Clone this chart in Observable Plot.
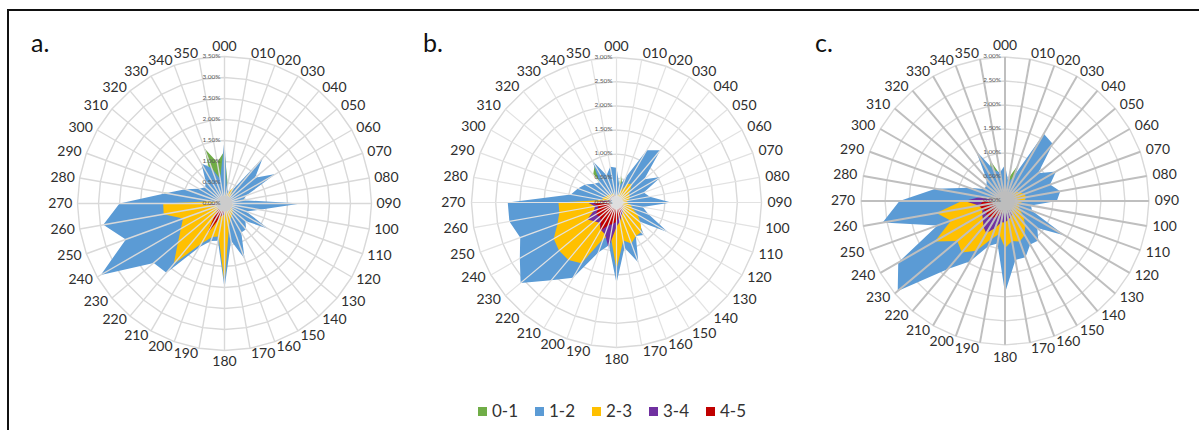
<!DOCTYPE html>
<html>
<head>
<meta charset="utf-8">
<script src="https://cdn.jsdelivr.net/npm/d3@7"></script>
<script src="https://cdn.jsdelivr.net/npm/@observablehq/plot@0.6"></script>
<style>
  html, body { margin: 0; padding: 0; background: #fff; }
  #wrap { position: relative; width: 1199px; height: 430px; overflow: hidden; font-family: Lato, "Open Sans", sans-serif; background: #fff; }
  #frame { position: absolute; left: 7px; top: 9px; width: 1400px; height: 600px; border-left: 2px solid #111; border-top: 2px solid #111; }
  .panel { position: absolute; top: 0; }
  .panel svg { overflow: visible; }
  .letter { position: absolute; font-size: 25px; line-height: 1; color: #111; }
  #legend { position: absolute; top: 401px; left: 478px; height: 20px; }
  .item { position: absolute; top: 0; display: flex; align-items: center; font-size: 17px; color: #333; white-space: nowrap; line-height: 20px; }
  .sw { width: 9px; height: 9px; margin-right: 5px; }
</style>
</head>
<body>
<div id="wrap">
  <div id="frame"></div>
</div>
<script>
// ---- categories ----
const directions = ["000","010","020","030","040","050","060","070","080","090","100","110",
                    "120","130","140","150","160","170","180","190","200","210","220","230",
                    "240","250","260","270","280","290","300","310","320","330","340","350"];
const seriesNames = ["0-1", "1-2", "2-3", "3-4", "4-5"];
const seriesColors = ["#70AD47", "#5B9BD5", "#FFC000", "#7030A0", "#C00000"];
const ticksA = [0, 0.5, 1.0, 1.5, 2.0, 2.5, 3.0, 3.5];
const ticksBC = [0, 0.5, 1.0, 1.5, 2.0, 2.5, 3.0];

// ---- panel a values (% frequency), directions 000..350 ----
const a01 = [1.25,0.45,0.15,0.10,0.10,0.10,0.15,0.35,0.50,0.20,0.10,0.10,
             0.10,0.10,0.10,0.10,0.10,0.10,0.10,0.10,0.10,0.10,0.10,0.10,
             0.10,0.10,0.15,0.30,1.65,0.40,0.20,0.20,0.30,0.60,1.40,1.00];
const a12 = [1.52,0.35,0.30,0.35,1.42,0.95,1.40,0.55,0.45,1.82,0.85,0.55,
             1.20,0.65,0.80,0.80,1.40,0.90,2.02,0.90,0.95,1.20,2.15,2.20,
             3.40,2.50,2.93,2.50,1.42,1.00,0.70,0.60,0.70,1.10,0.90,0.60];
const a23 = [0.15,0.20,0.30,0.45,0.20,0.15,0.15,0.15,0.15,0.20,0.20,0.20,
             0.20,0.25,0.30,0.35,0.40,0.60,1.90,0.80,0.85,1.10,1.88,1.45,
             1.20,1.05,1.47,1.46,0.30,0.20,0.15,0.15,0.15,0.15,0.15,0.15];
const a34 = [0.08,0.08,0.08,0.08,0.08,0.08,0.08,0.08,0.08,0.08,0.08,0.08,
             0.08,0.08,0.08,0.08,0.10,0.15,0.25,0.30,0.30,0.25,0.20,0.15,
             0.15,0.15,0.20,0.65,0.10,0.08,0.08,0.08,0.08,0.08,0.08,0.08];
const a45 = [0.06,0.06,0.06,0.06,0.06,0.06,0.06,0.06,0.06,0.06,0.06,0.06,
             0.06,0.06,0.06,0.06,0.08,0.10,0.15,0.25,0.40,0.85,0.35,0.20,
             0.15,0.15,0.10,0.15,0.06,0.06,0.06,0.06,0.06,0.06,0.06,0.06];

// ---- panel b values ----
const b01 = [0.20,0.57,0.35,0.10,0.10,0.10,0.10,0.10,0.10,0.10,0.10,0.10,
             0.10,0.10,0.10,0.10,0.10,0.10,0.10,0.10,0.10,0.10,0.10,0.10,
             0.10,0.10,0.10,0.15,0.15,0.15,0.15,0.20,0.75,0.90,0.40,0.20];
const b12 = [0.72,0.35,0.55,1.25,1.41,0.75,1.06,0.60,0.70,1.13,0.55,0.70,
             1.23,0.60,0.88,0.80,1.32,0.95,1.67,0.90,1.10,1.80,2.10,2.59,
             2.31,2.12,2.25,2.25,0.96,0.85,0.75,0.60,0.55,1.00,0.60,0.75];
const b23 = [0.15,0.15,0.25,0.45,0.50,0.35,0.30,0.30,0.25,0.20,0.30,0.35,
             0.50,0.65,0.80,0.80,0.90,0.80,1.38,0.70,0.80,1.45,1.55,1.55,
             1.50,1.30,1.20,1.20,0.30,0.30,0.25,0.25,0.20,0.20,0.20,0.15];
const b34 = [0.15,0.12,0.12,0.12,0.12,0.12,0.12,0.12,0.12,0.12,0.12,0.12,
             0.15,0.15,0.20,0.25,0.30,0.40,0.50,0.95,0.70,0.65,0.55,0.60,
             0.70,0.50,0.45,0.60,0.20,0.15,0.15,0.15,0.15,0.15,0.15,0.15];
const b45 = [0.10,0.10,0.10,0.10,0.10,0.10,0.10,0.10,0.10,0.10,0.10,0.10,
             0.12,0.15,0.15,0.20,0.25,0.30,0.40,0.45,0.50,0.68,0.50,0.45,
             0.50,0.40,0.40,0.50,0.15,0.10,0.10,0.10,0.10,0.10,0.10,0.10];

// ---- panel c values ----
const c01 = [0.30,0.50,0.80,0.30,0.10,0.10,0.10,0.10,0.10,0.10,0.10,0.10,
             0.10,0.10,0.10,0.10,0.10,0.10,0.10,0.10,0.10,0.10,0.10,0.10,
             0.10,0.10,0.10,0.10,0.10,0.10,0.10,0.15,0.30,0.60,0.90,0.55];
const c12 = [0.75,0.40,0.55,1.62,1.55,0.90,1.23,1.00,1.17,1.08,0.55,0.60,
             1.44,0.88,1.08,1.05,1.25,1.25,1.92,0.90,1.00,1.45,1.85,2.92,
             2.57,1.50,2.59,2.20,1.47,0.80,0.50,0.50,0.60,1.21,0.70,0.60];
const c23 = [0.10,0.10,0.15,0.15,0.20,0.30,0.35,0.43,0.45,0.40,0.30,0.30,
             0.35,0.50,0.65,0.82,0.90,0.85,0.98,0.70,0.85,1.20,1.40,1.30,
             1.69,1.20,1.45,0.90,0.40,0.20,0.15,0.10,0.10,0.10,0.10,0.10];
const c34 = [0.12,0.12,0.12,0.12,0.12,0.12,0.12,0.12,0.12,0.12,0.12,0.12,
             0.12,0.15,0.20,0.30,0.35,0.40,0.45,0.45,0.60,0.78,0.70,0.60,
             0.55,0.50,0.55,0.85,0.50,0.15,0.12,0.12,0.12,0.12,0.12,0.12];
const c45 = [0.08,0.08,0.08,0.08,0.08,0.08,0.08,0.08,0.08,0.08,0.08,0.08,
             0.08,0.08,0.08,0.10,0.12,0.15,0.20,0.25,0.30,0.40,0.45,0.50,
             0.45,0.50,0.55,0.45,0.20,0.08,0.08,0.08,0.08,0.08,0.08,0.08];

// ---- layout / style of each panel ----
const panels = [
  { letter: "a.", series: [a01, a12, a23, a34, a45], ticks: ticksA, cx: 224, cy: 203, R: 147, labelGap: 5,
    spoke: "#d9d9d9", spokeW: 1.4, hubR: 8, hub: "#cccccc", letterX: 31, letterY: 30 },
  { letter: "b.", series: [b01, b12, b23, b34, b45], ticks: ticksBC, cx: 616, cy: 202, R: 145, labelGap: 6,
    spoke: "#e2e2e2", spokeW: 1.2, hubR: 6, hub: "#dedede", letterX: 423, letterY: 30 },
  { letter: "c.", series: [c01, c12, c23, c34, c45], ticks: ticksBC, cx: 1006, cy: 202, R: 145, labelGap: 6,
    spoke: "#bfbfbf", spokeW: 2, hubR: 10, hub: "#bdbdbd", letterX: 815, letterY: 30 }
];

const wrap = document.getElementById("wrap");
const rad = d => d * Math.PI / 180;
const polar = (deg, v) => ({ x: v * Math.sin(rad(deg)), y: v * Math.cos(rad(deg)) });
const angles = directions.map(Number);

for (const p of panels) {
  const max = p.ticks[p.ticks.length - 1];
  const k = max / p.R;               // value units per pixel
  const W = 392, H = 390;

  const ringPts = [];
  for (const t of p.ticks.slice(1)) angles.forEach(a => ringPts.push({ ring: t, ...polar(a, t) }));

  const seriesRows = p.series.map((arr, i) => arr.map((v, j) => ({ s: seriesNames[i], ...polar(angles[j], v) })));

  const spokes = angles.map(a => { const e = polar(a, max); return { x1: 0, y1: 0, x2: e.x, y2: e.y }; });
  const labels = angles.map((a, j) => ({ a, text: directions[j], ...polar(a, max * (1 + p.labelGap / p.R)) }));
  const tickLabels = p.ticks.map(t => ({ x: 0, y: t, text: t.toFixed(2) + "%" }));

  const lblStyle = { x: "x", y: "y", text: "text", fontSize: 14, fill: "#2e2e2e" };
  const marks = [
    Plot.line(ringPts, { x: "x", y: "y", z: "ring", curve: "linear-closed", stroke: "#d9d9d9", strokeWidth: 1.4 })
  ];
  seriesRows.forEach((rows, i) => {
    marks.push(Plot.line(rows, { x: "x", y: "y", curve: "linear-closed", fill: seriesColors[i], stroke: "none" }));
  });
  marks.push(
    Plot.link(spokes, { x1: "x1", y1: "y1", x2: "x2", y2: "y2", stroke: p.spoke, strokeWidth: p.spokeW }),
    Plot.dot([{ x: 0, y: 0 }], { x: "x", y: "y", r: p.hubR, fill: p.hub, stroke: "none" }),
    Plot.text(tickLabels, { x: "x", y: "y", text: "text", textAnchor: "end", dx: -4, dy: -1, fontSize: 6.5, fill: "#595959" }),
    Plot.text(labels.filter(d => d.a > 0 && d.a < 180), { ...lblStyle, textAnchor: "start" }),
    Plot.text(labels.filter(d => d.a > 180), { ...lblStyle, textAnchor: "end" }),
    Plot.text(labels.filter(d => d.a === 0), { ...lblStyle, lineAnchor: "bottom", dy: -1 }),
    Plot.text(labels.filter(d => d.a === 180), { ...lblStyle, lineAnchor: "top", dy: 1 })
  );

  const chart = Plot.plot({
    width: W, height: H, margin: 0,
    x: { domain: [-(W / 2) * k, (W / 2) * k], axis: null },
    y: { domain: [-(H - p.cy) * k, p.cy * k], axis: null },
    style: { background: "none", fontFamily: "Lato, 'Open Sans', sans-serif", overflow: "visible" },
    marks
  });
  const holder = document.createElement("div");
  holder.className = "panel";
  holder.style.left = (p.cx - W / 2) + "px";
  holder.appendChild(chart);
  wrap.appendChild(holder);

  const lt = document.createElement("div");
  lt.className = "letter";
  lt.style.left = p.letterX + "px";
  lt.style.top = p.letterY + "px";
  lt.textContent = p.letter;
  wrap.appendChild(lt);
}

// ---- legend ----
const legend = document.createElement("div");
legend.id = "legend";
seriesNames.forEach((name, i) => {
  const it = document.createElement("div");
  it.className = "item";
  it.style.left = (i * 57) + "px";
  const sw = document.createElement("span");
  sw.className = "sw";
  sw.style.background = seriesColors[i];
  const tx = document.createElement("span");
  tx.textContent = name;
  it.appendChild(sw); it.appendChild(tx);
  legend.appendChild(it);
});
wrap.appendChild(legend);
</script>
</body>
</html>
